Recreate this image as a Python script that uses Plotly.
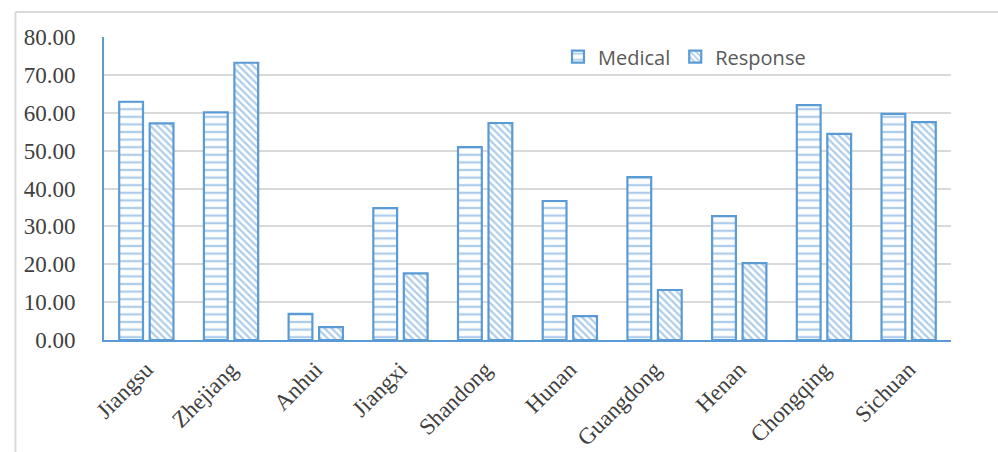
import plotly.graph_objects as go

provinces = ["Jiangsu", "Zhejiang", "Anhui", "Jiangxi", "Shandong",
             "Hunan", "Guangdong", "Henan", "Chongqing", "Sichuan"]
medical = [62.9, 60.1, 6.9, 34.8, 50.9, 36.7, 43.0, 32.7, 62.0, 59.7]
response = [57.2, 73.2, 3.4, 17.6, 57.3, 6.3, 13.2, 20.3, 54.4, 57.5]
y_ticks = [0, 10, 20, 30, 40, 50, 60, 70, 80]

BLUE = "#5B9BD5"

fig = go.Figure()
fig.add_trace(go.Bar(
    name="Medical", x=provinces, y=medical,
    marker=dict(color="white", line=dict(color=BLUE, width=2.2),
                pattern=dict(shape="-", fgcolor=BLUE, bgcolor="white",
                             size=7.6, solidity=0.3, fillmode="overlay")),
))
fig.add_trace(go.Bar(
    name="Response", x=provinces, y=response,
    marker=dict(color="white", line=dict(color=BLUE, width=2.2),
                pattern=dict(shape="\\", fgcolor=BLUE, bgcolor="white",
                             size=5, solidity=0.45, fillmode="overlay")),
))

L, R, T, B = 103.6, 47, 37, 112
W, H = 998, 452
pw, ph = W - L - R, H - T - B

fig.update_layout(
    width=W, height=H,
    margin=dict(l=L, r=R, t=T, b=B, pad=0, autoexpand=False),
    paper_bgcolor="white", plot_bgcolor="white",
    barmode="group", bargap=0.28, bargroupgap=0.22,
    showlegend=True,
    legend=dict(orientation="h", x=0.536, y=0.935, xanchor="left", yanchor="middle",
                font=dict(family="Open Sans", size=20, color="#595959"),
                itemwidth=30, bgcolor="rgba(0,0,0,0)"),
    xaxis=dict(showline=True, linecolor=BLUE, linewidth=2, ticks="",
               tickangle=-45, ticklabelstandoff=5, automargin=False,
               tickfont=dict(family="Liberation Serif", size=23, color="#404040"),
               showgrid=False),
    yaxis=dict(range=[0, 80], tickvals=y_ticks, tickformat=".2f",
               showline=True, linecolor=BLUE, linewidth=2, automargin=False,
               showgrid=True, gridcolor="#d9d9d9", gridwidth=1.8,
               zeroline=False, ticks="", ticklen=0, ticklabelstandoff=22,
               tickfont=dict(family="Liberation Serif", size=23, color="#404040")),
    shapes=[
        dict(type="line", xref="paper", yref="paper",
             x0=(15 - L) / pw, x1=(W + 5 - L) / pw,
             y0=(H - B - 12) / ph, y1=(H - B - 12) / ph,
             line=dict(color="#d9d9d9", width=2)),
        dict(type="line", xref="paper", yref="paper",
             x0=(15 - L) / pw, x1=(15 - L) / pw,
             y0=(H - B - 12) / ph, y1=-(B + 5) / ph,
             line=dict(color="#d9d9d9", width=2)),
    ],
)

fig.write_html("out.html")
